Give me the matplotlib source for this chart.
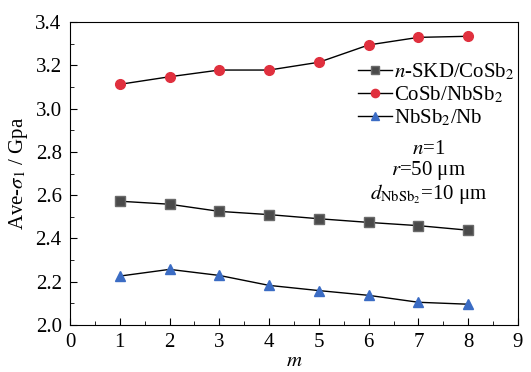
import matplotlib
matplotlib.use('Agg')
import matplotlib.pyplot as plt
from matplotlib.ticker import MultipleLocator

plt.rcParams['font.family'] = 'Liberation Serif'
plt.rcParams['mathtext.fontset'] = 'stix'

m = [1, 2, 3, 4, 5, 6, 7, 8]
skd_cosb2 = [2.572, 2.558, 2.525, 2.510, 2.491, 2.474, 2.459, 2.438]
cosb_nbsb2 = [3.112, 3.147, 3.178, 3.178, 3.214, 3.294, 3.329, 3.334]
nbsb2_nb = [2.226, 2.257, 2.229, 2.183, 2.159, 2.137, 2.105, 2.096]

fig = plt.figure(figsize=(5.31, 3.72), dpi=100)
ax = fig.add_axes([70/531, 1-325/372, 448/531, 303/372])

ax.plot(m, skd_cosb2, '-s', color='black', lw=1, ms=6.5, mfc='#4a4a4a', mec='#6a6a6a',
        label='$\\it{n}$-SKD/CoSb$_2$')
ax.plot(m, cosb_nbsb2, '-o', color='black', lw=1, ms=7, mfc='#e0303e', mec='#e0303e',
        label='CoSb/NbSb$_2$')
ax.plot(m, nbsb2_nb, '-^', color='black', lw=1, ms=7.5, mfc='#3b6cc4', mec='#3b6cc4',
        label='NbSb$_2$/Nb')

ax.set_xlim(0, 9)
ax.set_ylim(2.0, 3.4)
ax.xaxis.set_major_locator(MultipleLocator(1))
ax.xaxis.set_minor_locator(MultipleLocator(0.5))
ax.yaxis.set_major_locator(MultipleLocator(0.2))
ax.yaxis.set_minor_locator(MultipleLocator(0.1))
ax.tick_params(which='both', direction='in', top=False, right=False, labelsize=15)
ax.tick_params(which='major', length=5)
ax.tick_params(which='minor', length=3)
ax.tick_params(axis='x', pad=6)
ax.tick_params(axis='y', pad=6)
ax.set_yticklabels([f'{v:.1f}' for v in ax.get_yticks()])

ax.set_xlabel('$\\it{m}$', fontsize=15, labelpad=0)
ax.set_ylabel('Ave-$\\sigma_1$ / Gpa', fontsize=15, labelpad=4)

ax.legend(loc='upper right', bbox_to_anchor=(1.02, 0.91), frameon=False, fontsize=15,
          handlelength=1.6, handletextpad=0.1, labelspacing=0.1, borderaxespad=0.2,
          markerscale=0.85)

ax.text(0.80, 0.50, '$\\it{n}$=1\n$\\it{r}$=50 μm\n$\\it{d}_{\\mathrm{NbSb_2}}$=10 μm',
        transform=ax.transAxes, ha='center', va='center', fontsize=15, linespacing=1.0)

fig.savefig('out.png', dpi=100)
